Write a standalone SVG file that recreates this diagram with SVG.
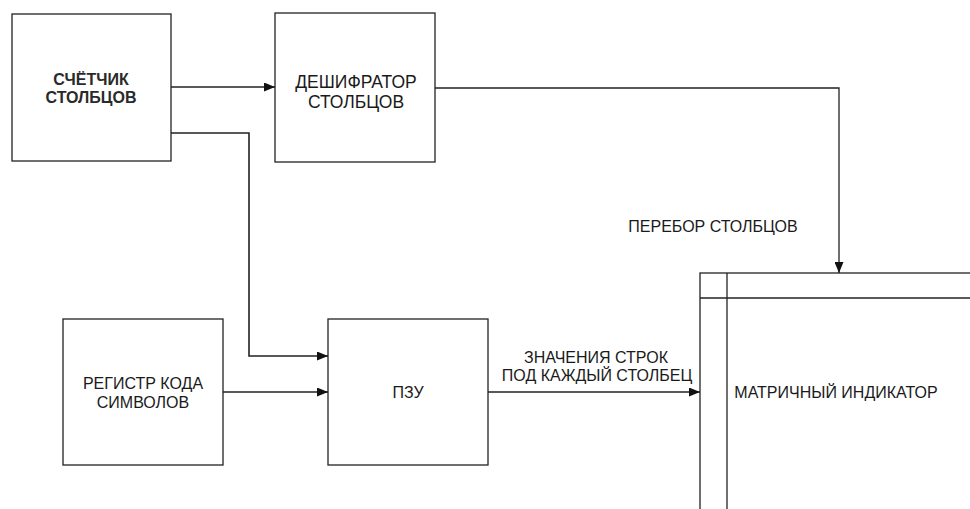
<svg xmlns="http://www.w3.org/2000/svg" width="970" height="509" viewBox="0 0 970 509">
<defs>
<style>
.box{fill:#fff;stroke:#222;stroke-width:1.3}
.ln{fill:none;stroke:#222;stroke-width:1.3}
.t{font-family:"Liberation Sans",Arial,sans-serif;font-size:16px;fill:#1a1a1a;text-anchor:middle;dominant-baseline:central}
.tb{font-weight:bold;font-size:16px;fill:#2a2a2a}
</style>
<marker id="ah" markerWidth="11" markerHeight="9" refX="11" refY="4.5" orient="auto" markerUnits="userSpaceOnUse">
<path d="M0,0 L11,4.5 L0,9 Z" fill="#111"/>
</marker>
</defs>
<rect width="970" height="509" fill="#fff"/>
<g id="counter">
<rect class="box" x="12" y="14" width="159" height="147"/>
<text class="t tb" x="91" y="79">СЧЁТЧИК</text>
<text class="t tb" x="91" y="97">СТОЛБЦОВ</text>
</g>
<g id="decoder">
<rect class="box" x="275" y="13" width="160" height="149"/>
<text class="t" style="font-size:17.5px" x="356" y="82">ДЕШИФРАТОР</text>
<text class="t" style="font-size:17.5px" x="356" y="102">СТОЛБЦОВ</text>
</g>
<g id="register">
<rect class="box" x="63" y="319" width="160" height="146"/>
<text class="t" x="143" y="383">РЕГИСТР КОДА</text>
<text class="t" x="143" y="402">СИМВОЛОВ</text>
</g>
<g id="rom">
<rect class="box" x="328" y="319" width="160" height="146"/>
<text class="t" x="408" y="392">ПЗУ</text>
</g>
<g id="indicator">
<rect class="box" x="700" y="273" width="280" height="250"/>
<line class="ln" x1="700" y1="298" x2="970" y2="298"/>
<line class="ln" x1="727" y1="273" x2="727" y2="509"/>
<text class="t" x="836" y="392">МАТРИЧНЫЙ ИНДИКАТОР</text>
</g>
<g id="connectors">
<line class="ln" x1="171" y1="87" x2="275" y2="87" marker-end="url(#ah)"/>
<path class="ln" d="M171,133 H249 V356 H328" style="stroke-width:1.6" marker-end="url(#ah)"/>
<line class="ln" x1="223" y1="392" x2="328" y2="392" marker-end="url(#ah)"/>
<path class="ln" d="M435,88 H839 V273" marker-end="url(#ah)"/>
<line class="ln" x1="488" y1="392" x2="700" y2="392" marker-end="url(#ah)"/>
<text class="t" x="713" y="226">ПЕРЕБОР СТОЛБЦОВ</text>
<text class="t" x="596" y="357">ЗНАЧЕНИЯ СТРОК</text>
<text class="t" x="597" y="375">ПОД КАЖДЫЙ СТОЛБЕЦ</text>
</g>
</svg>
